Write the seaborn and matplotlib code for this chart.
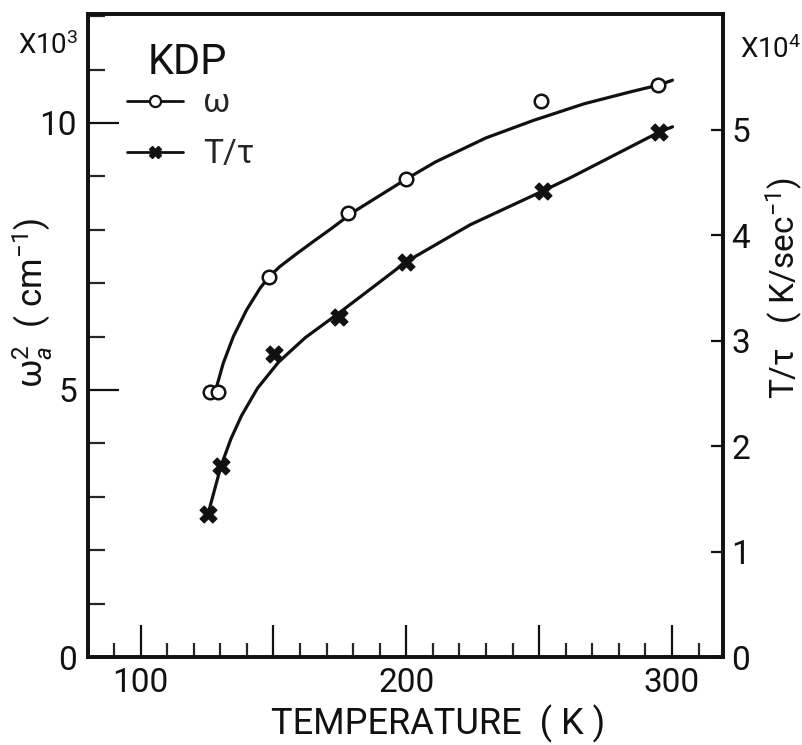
import matplotlib
matplotlib.use("Agg")
import matplotlib.pyplot as plt
from matplotlib.lines import Line2D
from matplotlib.ticker import MultipleLocator, FixedLocator
import seaborn as sns
import pandas as pd

# Measured points: squared soft-mode frequency (x10^3 cm^-1)
omega_T = [126.3, 129.2, 148.3, 178.0, 200.0, 250.7, 294.8]
omega_sq = [4.97, 4.97, 7.12, 8.32, 8.95, 10.42, 10.71]

# Measured points: T/tau (x10^4 K/sec)
relax_T = [125.4, 130.3, 150.3, 174.6, 200.0, 251.3, 295.2]
relax_rate = [1.36, 1.815, 2.87, 3.23, 3.75, 4.42, 4.98]

# Hand-drawn guide curves through each data set
omega_curve_T = [128.6, 131.1, 134.9, 139.9, 144.9, 148.3, 152.4, 158.7, 165.0,
                 172.0, 180.0, 190.0, 200.0, 211.0, 230.0, 248.0, 267.0, 285.0,
                 295.0, 300.2]
omega_curve_v = [5.06, 5.50, 6.00, 6.50, 6.90, 7.12, 7.31, 7.55, 7.78,
                 8.03, 8.33, 8.64, 8.95, 9.27, 9.72, 10.05, 10.36, 10.59,
                 10.71, 10.80]

relax_curve_T = [125.4, 130.3, 134.0, 138.0, 144.0, 152.0, 162.0, 175.0, 187.0,
                 200.0, 224.0, 251.3, 262.0, 295.2, 300.2]
relax_curve_v = [1.36, 1.815, 2.07, 2.29, 2.55, 2.80, 3.03, 3.27, 3.50,
                 3.75, 4.10, 4.42, 4.55, 4.98, 5.03]

x_major = [100, 150, 200, 250, 300]
x_labels = ["100", "", "200", "", "300"]

sns.set_style("ticks")
plt.rcParams["font.family"] = ["Roboto", "DejaVu Sans"]
plt.rcParams["mathtext.fontset"] = "custom"
plt.rcParams["mathtext.rm"] = "Roboto"
plt.rcParams["mathtext.it"] = "Roboto:italic"
plt.rcParams["mathtext.bf"] = "Roboto:bold"

INK = "#111111"
FS = 24

fig = plt.figure(figsize=(8.03, 7.45), dpi=100)
ax = fig.add_axes([88 / 803, 1 - 657 / 745, 635 / 803, 643 / 745])
ax2 = ax.twinx()

omega_pts = pd.DataFrame({"T": omega_T, "v": omega_sq})
relax_pts = pd.DataFrame({"T": relax_T, "v": relax_rate})
omega_line = pd.DataFrame({"T": omega_curve_T, "v": omega_curve_v})
relax_line = pd.DataFrame({"T": relax_curve_T, "v": relax_curve_v})

sns.lineplot(data=omega_line, x="T", y="v", ax=ax, color=INK, lw=2.3,
             sort=False, legend=False)
sns.scatterplot(data=omega_pts, x="T", y="v", ax=ax, marker="o", s=95,
                facecolor="white", edgecolor=INK, linewidth=1.8, zorder=5,
                legend=False)

sns.lineplot(data=relax_line, x="T", y="v", ax=ax2, color=INK, lw=2.3,
             sort=False, legend=False)
sns.scatterplot(data=relax_pts, x="T", y="v", ax=ax2, marker="X", s=150,
                color=INK, edgecolor=INK, linewidth=0.8, zorder=5,
                legend=False)

ax.set_xlim(80.2, 319.2)
ax.set_ylim(0, 12.04)
ax2.set_ylim(0, 6.1)

# Frame
for a in (ax, ax2):
    for sp in a.spines.values():
        sp.set_visible(True)
        sp.set_linewidth(2.6)
        sp.set_color(INK)

# Temperature axis
ax.xaxis.set_major_locator(FixedLocator(x_major))
ax.set_xticklabels(x_labels)
ax.xaxis.set_minor_locator(MultipleLocator(10))
ax.tick_params(axis="x", which="major", direction="in", length=23, width=1.6,
               labelsize=FS, pad=7, colors=INK, top=False)
ax.tick_params(axis="x", which="minor", direction="in", length=10, width=1.6,
               top=False)

# Left axis
ax.yaxis.set_major_locator(FixedLocator([0, 5, 10]))
ax.yaxis.set_minor_locator(MultipleLocator(1))
ax.tick_params(axis="y", which="major", direction="in", length=22, width=1.6,
               labelsize=FS, pad=8, colors=INK, right=False)
ax.tick_params(axis="y", which="minor", direction="in", length=12, width=1.6,
               right=False)

# Right axis
ax2.yaxis.set_major_locator(FixedLocator([0, 1, 2, 3, 4, 5]))
ax2.tick_params(axis="y", which="major", direction="in", length=9, width=1.6,
                labelsize=FS, pad=6, colors=INK, left=False)

ax.set_xlabel("")
ax.set_ylabel("")
ax2.set_ylabel("")
fig.text(438 / 803, 1 - 724 / 745, "TEMPERATURE  ( K )", fontsize=26,
         color=INK, ha="center", va="center")
fig.text(33 / 803, 1 - 303 / 745, r"ω$_a^2$  ( cm$^{-1}$)", fontsize=25,
         color=INK, ha="center", va="center", rotation=90)
fig.text(784 / 803, 1 - 288 / 745, r"T/τ   ( K/sec$^{-1}$)", fontsize=FS,
         color=INK, ha="center", va="center", rotation=90)

# Scale factors
fig.text(18 / 803, 1 - 46 / 745, r"X10$^3$", fontsize=20, color=INK,
         ha="left", va="center")
fig.text(740 / 803, 1 - 50 / 745, r"X10$^4$", fontsize=20, color=INK,
         ha="left", va="center")

# Sample name and key
ax.text(0.157, 0.924, "KDP", transform=ax.transAxes, fontsize=30,
        color=INK, ha="center", va="center")
handles = [
    Line2D([], [], color=INK, lw=2.0, marker="o", markersize=8,
           markerfacecolor="white", markeredgecolor=INK, markeredgewidth=1.6),
    Line2D([], [], color=INK, lw=2.0, marker="X", markersize=9,
           markerfacecolor=INK, markeredgecolor=INK),
]
ax.legend(handles, ["ω", "T/τ"], loc="upper left",
          bbox_to_anchor=(0.061, 0.886), frameon=False, fontsize=FS,
          handlelength=1.7, handletextpad=0.6, labelspacing=0.57,
          borderpad=0, borderaxespad=0)

fig.savefig("out.png", dpi=100, facecolor="white")
